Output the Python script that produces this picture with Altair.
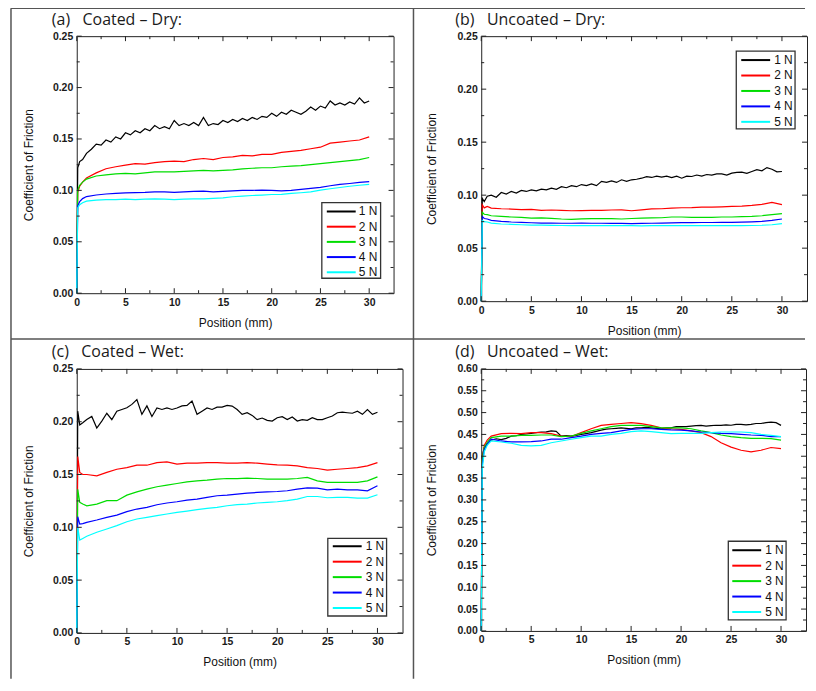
import altair as alt
import pandas as pd

SERIES = ["1 N", "2 N", "3 N", "4 N", "5 N"]
COLORS = ["#000000", "#ff0000", "#00dd00", "#0000ff", "#00ffff"]

POS_FINE = [0, 0.1, 0.3, 0.6, 1,
            1.5, 2, 2.5, 3, 3.5, 4, 4.5, 5, 5.5, 6,
            6.5, 7, 7.5, 8, 8.5, 9, 9.5, 10, 10.5, 11,
            11.5, 12, 12.5, 13, 13.5, 14, 14.5, 15, 15.5, 16,
            16.5, 17, 17.5, 18, 18.5, 19, 19.5, 20, 20.5, 21,
            21.5, 22, 22.5, 23, 23.5, 24, 24.5, 25, 25.5, 26,
            26.5, 27, 27.5, 28, 28.5, 29, 29.5, 30]
POS_COARSE = [0, 0.1, 0.3, 0.6,
              1, 2, 3, 4, 5, 6, 7, 8, 9, 10,
              11, 12, 13, 14, 15, 16, 17, 18, 19, 20,
              21, 22, 23, 24, 25, 26, 27, 28, 29, 30]

# ---- (a) Coated - Dry
A_1N = [0, 0.122, 0.128, 0.130, 0.136,
        0.140, 0.145, 0.144, 0.149, 0.147, 0.152, 0.150, 0.156, 0.154, 0.158,
        0.156, 0.160, 0.158, 0.163, 0.160, 0.162, 0.160, 0.168, 0.163, 0.165,
        0.163, 0.166, 0.163, 0.171, 0.163, 0.165, 0.164, 0.168, 0.166, 0.169,
        0.167, 0.170, 0.168, 0.171, 0.169, 0.172, 0.171, 0.175, 0.172, 0.176,
        0.174, 0.178, 0.176, 0.174, 0.177, 0.181, 0.178, 0.182, 0.180, 0.187,
        0.183, 0.185, 0.183, 0.186, 0.184, 0.190, 0.185, 0.187]
A_2N = [0, 0.098, 0.104, 0.108,
        0.112, 0.117, 0.121, 0.123, 0.1245, 0.126, 0.1255, 0.127, 0.128, 0.1285,
        0.128, 0.130, 0.131, 0.130, 0.132, 0.1325, 0.134, 0.1335, 0.135, 0.135,
        0.137, 0.138, 0.139, 0.1405, 0.142, 0.146, 0.147, 0.148, 0.149, 0.152]
A_3N = [0, 0.100, 0.105, 0.108,
        0.111, 0.114, 0.115, 0.116, 0.1165, 0.116, 0.117, 0.118, 0.118, 0.118,
        0.1185, 0.119, 0.1195, 0.119, 0.1195, 0.120, 0.121, 0.1215, 0.122, 0.122,
        0.123, 0.1235, 0.124, 0.125, 0.126, 0.127, 0.128, 0.129, 0.130, 0.132]
A_4N = [0, 0.085, 0.089, 0.092,
        0.094, 0.0955, 0.0965, 0.097, 0.0975, 0.0978, 0.098, 0.0985, 0.0985, 0.098,
        0.0985, 0.099, 0.0992, 0.0985, 0.099, 0.0995, 0.100, 0.100, 0.1003, 0.100,
        0.0995, 0.100, 0.101, 0.102, 0.103, 0.1045, 0.1058, 0.1067, 0.1077, 0.1085]
A_5N = [0, 0.083, 0.086, 0.088,
        0.0895, 0.0905, 0.091, 0.091, 0.0915, 0.091, 0.0915, 0.0918, 0.0915, 0.091,
        0.0915, 0.0918, 0.0918, 0.0922, 0.0928, 0.0938, 0.0944, 0.095, 0.0954, 0.096,
        0.0962, 0.097, 0.0977, 0.0986, 0.1003, 0.1016, 0.1028, 0.104, 0.105, 0.1058]

# ---- (b) Uncoated - Dry
B_1N = [0, 0.097, 0.094, 0.099, 0.100,
        0.098, 0.1025, 0.101, 0.1035, 0.102, 0.1045, 0.1035, 0.105, 0.104, 0.1057,
        0.105, 0.1066, 0.1055, 0.108, 0.107, 0.109, 0.108, 0.110, 0.109, 0.1107,
        0.109, 0.113, 0.112, 0.1135, 0.112, 0.1145, 0.113, 0.1145, 0.115, 0.116,
        0.1175, 0.1167, 0.118, 0.117, 0.118, 0.1165, 0.118, 0.116, 0.118, 0.1176,
        0.119, 0.118, 0.1195, 0.119, 0.120, 0.120, 0.119, 0.1208, 0.1215, 0.1217,
        0.1205, 0.1223, 0.124, 0.123, 0.126, 0.1245, 0.122, 0.1223]
B_2N = [0, 0.091, 0.088, 0.0894,
        0.0878, 0.0872, 0.0869, 0.0863, 0.0865, 0.0856, 0.086, 0.0857, 0.0853, 0.0855,
        0.0857, 0.0857, 0.086, 0.0862, 0.0853, 0.0862, 0.087, 0.0872, 0.0878, 0.0881,
        0.0883, 0.0888, 0.0887, 0.089, 0.0894, 0.0897, 0.0903, 0.0913, 0.0932, 0.091]
B_3N = [0, 0.084, 0.082, 0.0816,
        0.0806, 0.080, 0.0794, 0.079, 0.0784, 0.0785, 0.0781, 0.0775, 0.0772, 0.0776,
        0.0778, 0.0778, 0.0778, 0.0775, 0.078, 0.0784, 0.0786, 0.0787, 0.0794, 0.0794,
        0.079, 0.079, 0.079, 0.0794, 0.0794, 0.0797, 0.080, 0.0806, 0.0816, 0.0825]
B_4N = [0, 0.080, 0.078, 0.0775,
        0.0762, 0.0753, 0.0747, 0.0744, 0.074, 0.0737, 0.0737, 0.0735, 0.0735, 0.0737,
        0.0735, 0.0735, 0.0733, 0.0733, 0.0731, 0.0733, 0.0735, 0.0737, 0.0738, 0.074,
        0.074, 0.0742, 0.0742, 0.0744, 0.0744, 0.0745, 0.0748, 0.0753, 0.0762, 0.0775]
B_5N = [0, 0.076, 0.075, 0.0747,
        0.0737, 0.0728, 0.0725, 0.0721, 0.0718, 0.0717, 0.0715, 0.0714, 0.0713, 0.0712,
        0.0712, 0.0712, 0.0712, 0.0712, 0.0712, 0.0711, 0.0712, 0.0712, 0.0712, 0.0712,
        0.0712, 0.0713, 0.0713, 0.0712, 0.0712, 0.0713, 0.0714, 0.0716, 0.0721, 0.0731]

# ---- (c) Coated - Wet
C_1N = [0, 0.210, 0.197, 0.199, 0.202,
        0.205, 0.194, 0.2006, 0.208, 0.202, 0.210, 0.2116, 0.2132, 0.2164, 0.221,
        0.207, 0.215, 0.205, 0.213, 0.2116, 0.213, 0.2116, 0.213, 0.215, 0.2155,
        0.2195, 0.207, 0.210, 0.213, 0.2116, 0.2138, 0.2138, 0.2154, 0.2148, 0.2116,
        0.207, 0.2085, 0.206, 0.202, 0.2035, 0.2013, 0.2006, 0.2038, 0.2048, 0.202,
        0.2045, 0.2006, 0.202, 0.2013, 0.2038, 0.202, 0.202, 0.2038, 0.2054, 0.2085,
        0.209, 0.2085, 0.208, 0.210, 0.207, 0.2116, 0.207, 0.209]
C_2N = [0, 0.167, 0.152, 0.150,
        0.150, 0.1487, 0.152, 0.155, 0.1566, 0.1588, 0.1588, 0.1613, 0.162, 0.1598,
        0.1607, 0.1607, 0.1613, 0.1613, 0.1607, 0.1607, 0.1613, 0.1607, 0.1598, 0.1591,
        0.1588, 0.1582, 0.1566, 0.1557, 0.1541, 0.155, 0.1557, 0.1566, 0.1582, 0.1613]
C_3N = [0, 0.136, 0.1236, 0.122,
        0.1204, 0.122, 0.1252, 0.1252, 0.1305, 0.1336, 0.1362, 0.1384, 0.140, 0.1415,
        0.1431, 0.144, 0.1446, 0.1456, 0.1462, 0.1462, 0.1465, 0.1462, 0.1456, 0.1456,
        0.1456, 0.1462, 0.1472, 0.144, 0.1425, 0.1425, 0.1425, 0.1425, 0.144, 0.1478]
C_4N = [0, 0.110, 0.1031, 0.1035,
        0.1047, 0.1069, 0.1094, 0.1116, 0.1148, 0.1173, 0.1189, 0.1214, 0.123, 0.1242,
        0.1258, 0.1267, 0.1283, 0.1299, 0.1305, 0.1314, 0.1324, 0.133, 0.1336, 0.1339,
        0.1346, 0.1362, 0.1374, 0.1371, 0.1355, 0.1362, 0.1355, 0.1355, 0.1346, 0.1393]
C_5N = [0, 0.100, 0.088, 0.0895,
        0.0915, 0.0953, 0.0984, 0.1016, 0.1053, 0.1079, 0.1094, 0.111, 0.1126, 0.1142,
        0.1154, 0.1167, 0.1179, 0.1189, 0.1204, 0.1214, 0.122, 0.123, 0.1236, 0.1242,
        0.1252, 0.1267, 0.1292, 0.1292, 0.128, 0.1283, 0.1283, 0.1277, 0.1277, 0.1308]

# ---- (d) Uncoated - Wet
D_1N = [0, 0.40, 0.42, 0.428, 0.437,
        0.440, 0.438, 0.441, 0.446, 0.447, 0.450, 0.451, 0.4525, 0.454, 0.4555,
        0.456, 0.458, 0.457, 0.446, 0.447, 0.446, 0.448, 0.450, 0.452, 0.454,
        0.457, 0.460, 0.462, 0.463, 0.464, 0.465, 0.464, 0.463, 0.465, 0.465,
        0.466, 0.465, 0.464, 0.463, 0.465, 0.465, 0.468, 0.4677, 0.468, 0.469,
        0.470, 0.4707, 0.469, 0.470, 0.471, 0.4707, 0.472, 0.471, 0.473, 0.473,
        0.472, 0.473, 0.475, 0.475, 0.477, 0.478, 0.477, 0.4707]
D_2N = [0, 0.39, 0.425, 0.437,
        0.446, 0.4517, 0.4525, 0.4517, 0.454, 0.454, 0.4517, 0.446, 0.445, 0.454,
        0.463, 0.4707, 0.473, 0.475, 0.4768, 0.4745, 0.4707, 0.465, 0.463, 0.4616,
        0.458, 0.454, 0.445, 0.431, 0.421, 0.4137, 0.410, 0.4137, 0.420, 0.4175]
D_3N = [0, 0.39, 0.42, 0.432,
        0.4426, 0.446, 0.446, 0.448, 0.448, 0.4487, 0.4487, 0.445, 0.446, 0.4525,
        0.458, 0.463, 0.4677, 0.4707, 0.4707, 0.4707, 0.4677, 0.465, 0.465, 0.465,
        0.463, 0.458, 0.454, 0.4487, 0.445, 0.4426, 0.441, 0.441, 0.4403, 0.437]
D_4N = [0, 0.38, 0.415, 0.428,
        0.439, 0.435, 0.4327, 0.4327, 0.4335, 0.435, 0.439, 0.439, 0.4426, 0.446,
        0.450, 0.4525, 0.454, 0.458, 0.4616, 0.463, 0.463, 0.4616, 0.4603, 0.460,
        0.458, 0.4555, 0.454, 0.4525, 0.4517, 0.450, 0.4487, 0.448, 0.445, 0.445]
D_5N = [0, 0.37, 0.41, 0.425,
        0.435, 0.4327, 0.4297, 0.425, 0.4236, 0.425, 0.431, 0.435, 0.439, 0.4426,
        0.446, 0.446, 0.450, 0.4525, 0.4563, 0.458, 0.4563, 0.454, 0.4517, 0.4525,
        0.4525, 0.4525, 0.454, 0.4555, 0.4555, 0.4555, 0.454, 0.450, 0.448, 0.445]

X_MAJOR = [0, 5, 10, 15, 20, 25, 30]
X_MINOR = [2.5, 7.5, 12.5, 17.5, 22.5, 27.5]
Y_MAJOR_LOW = [0, 0.05, 0.10, 0.15, 0.20, 0.25]
Y_MINOR_LOW = [0.025, 0.075, 0.125, 0.175, 0.225]
Y_MAJOR_HIGH = [0, 0.05, 0.10, 0.15, 0.20, 0.25, 0.30, 0.35, 0.40, 0.45, 0.50, 0.55, 0.60]
Y_MINOR_HIGH = [0.025, 0.075, 0.125, 0.175, 0.225, 0.275, 0.325, 0.375, 0.425,
                0.475, 0.525, 0.575]

TITLES = ["(a)\u00a0\u00a0\u00a0Coated \u2013 Dry:", "(b)\u00a0\u00a0\u00a0Uncoated \u2013 Dry:",
          "(c)\u00a0\u00a0\u00a0Coated \u2013 Wet:", "(d)\u00a0\u00a0\u00a0Uncoated \u2013 Wet:"]

FONT = "Liberation Sans"
FRAME = "#222222"
BORDER = "#555555"
X_MAX = 32.5
ONE = pd.DataFrame({"k": [0]})


def panel(curves, W, H, ydom, ymaj, ymin, title, tdx, tdy, ytx,
          box, rows, lx, tx, borders=None):
    recs = []
    for name, pos, vals in curves:
        for p, v in zip(pos, vals):
            recs.append({"series": name, "x": p, "y": v})
    df = pd.DataFrame(recs)

    def xs():
        return alt.Scale(domain=[0, X_MAX], nice=False, zero=False)

    def ys():
        return alt.Scale(domain=ydom, nice=False, zero=False)

    cs = alt.Scale(domain=SERIES, range=COLORS)
    layers = []
    if borders:
        for (x0, x1, y0, y1) in borders:
            base = alt.Chart(ONE).mark_rule(color=BORDER, strokeWidth=1.5)
            if x0 == x1:
                layers.append(base.encode(x=alt.value(x0), y=alt.value(y0), y2=alt.value(y1)))
            else:
                layers.append(base.encode(x=alt.value(x0), x2=alt.value(x1), y=alt.value(y0)))
    xaxis = alt.Axis(values=X_MAJOR, title="Position (mm)", format="d", orient="bottom",
                     titleX=W / 2, titleY=29, titleBaseline="middle")
    yaxis = alt.Axis(values=ymaj, title="Coefficient of Friction", format=".2f", orient="left",
                     titleX=ytx, titleY=H / 2, titleBaseline="middle", titleAngle=-90)
    layers.append(alt.Chart(df).mark_line(strokeWidth=1.2).encode(
        x=alt.X("x:Q", scale=xs(), axis=xaxis),
        y=alt.Y("y:Q", scale=ys(), axis=yaxis),
        color=alt.Color("series:N", scale=cs, legend=None),
    ))
    for vals, ln in ((X_MAJOR, 5), (X_MINOR, 3)):
        d = pd.DataFrame({"v": vals})
        b = alt.Chart(d).mark_rule(color=FRAME, strokeWidth=1)
        xe = alt.X("v:Q", scale=xs(), axis=None)
        layers.append(b.encode(x=xe, y=alt.value(H), y2=alt.value(H - ln)))
        layers.append(b.encode(x=xe, y=alt.value(0), y2=alt.value(ln)))
    for vals, ln in ((ymaj, 5), (ymin, 3)):
        d = pd.DataFrame({"v": vals})
        b = alt.Chart(d).mark_rule(color=FRAME, strokeWidth=1)
        ye = alt.Y("v:Q", scale=ys(), axis=None)
        layers.append(b.encode(y=ye, x=alt.value(0), x2=alt.value(ln)))
        layers.append(b.encode(y=ye, x=alt.value(W), x2=alt.value(W - ln)))
    # legend
    bx0, bx1, by0, by1 = box
    layers.append(alt.Chart(ONE).mark_rect(fill="white", stroke="#333333", strokeWidth=1.3).encode(
        x=alt.value(bx0), x2=alt.value(bx1), y=alt.value(by0), y2=alt.value(by1)))
    lg = pd.DataFrame({"series": SERIES})
    ly = alt.Y("series:N", scale=alt.Scale(type="point", domain=SERIES, range=list(rows), padding=0),
               axis=None)
    layers.append(alt.Chart(lg).mark_rule(strokeWidth=2).encode(
        x=alt.value(lx), x2=alt.value(lx + 29), y=ly,
        color=alt.Color("series:N", scale=cs, legend=None)))
    layers.append(alt.Chart(lg).mark_text(align="left", baseline="middle", fontSize=12,
                                          font=FONT, color="#111111").encode(
        x=alt.value(tx), y=ly, text="series:N"))
    # panel title
    layers.append(alt.Chart(pd.DataFrame({"t": [title]})).mark_text(
        align="left", baseline="alphabetic", fontSize=16, font="Open Sans", color="#1a1a1a").encode(
        x=alt.value(tdx), y=alt.value(tdy), text="t:N"))
    return alt.layer(*layers).resolve_scale(x="independent", y="independent").properties(
        width=W, height=H)


BORDERS = [(-66, 731, -28, -28), (-66, 731, 304, 304), (-66, -66, -28, 645), (338, 338, -28, 645)]

pa = panel([("1 N", POS_FINE, A_1N), ("2 N", POS_COARSE, A_2N), ("3 N", POS_COARSE, A_3N),
            ("4 N", POS_COARSE, A_4N), ("5 N", POS_COARSE, A_5N)],
           318, 258, [0, 0.25], Y_MAJOR_LOW, Y_MINOR_LOW, TITLES[0], -25, -11, -48,
           (246, 305, 167, 243), (176, 237), 251, 283, borders=BORDERS)
pb = panel([("1 N", POS_FINE, B_1N), ("2 N", POS_COARSE, B_2N), ("3 N", POS_COARSE, B_3N),
            ("4 N", POS_COARSE, B_4N), ("5 N", POS_COARSE, B_5N)],
           327, 266, [0, 0.25], Y_MAJOR_LOW, Y_MINOR_LOW, TITLES[1], -26, -11, -50,
           (256, 315, 15, 93), (24, 86), 261, 294)
pc = panel([("1 N", POS_FINE, C_1N), ("2 N", POS_COARSE, C_2N), ("3 N", POS_COARSE, C_3N),
            ("4 N", POS_COARSE, C_4N), ("5 N", POS_COARSE, C_5N)],
           327, 265, [0, 0.25], Y_MAJOR_LOW, Y_MINOR_LOW, TITLES[2], -25, -12, -48,
           (252, 311, 170, 248), (178, 240), 257, 290)
pd_ = panel([("1 N", POS_FINE, D_1N), ("2 N", POS_COARSE, D_2N), ("3 N", POS_COARSE, D_3N),
             ("4 N", POS_COARSE, D_4N), ("5 N", POS_COARSE, D_5N)],
            326, 263, [0, 0.60], Y_MAJOR_HIGH, Y_MINOR_HIGH, TITLES[3], -26, -12, -50,
            (248, 306, 173, 252), (182, 244), 252, 285)

chart = alt.concat(pa, pb, pc, pd_, columns=2, spacing={"row": 68, "column": 79},
                   bounds="flush").resolve_scale(x="independent", y="independent").properties(
    padding={"left": 1, "top": -3, "right": 0, "bottom": 0}
).configure_view(stroke=FRAME, strokeWidth=1).configure_axis(
    ticks=False, tickSize=0, domain=False, grid=False,
    labelFont=FONT, labelFontWeight="bold", labelFontSize=10.5, labelColor="#1a1a1a",
    labelPadding=4, labelFlush=False, labelOverlap=False,
    titleFont=FONT, titleFontSize=12, titleFontWeight="normal", titleColor="#111111",
)

chart.save("out.html", embed_options={"renderer": "svg", "actions": False})
